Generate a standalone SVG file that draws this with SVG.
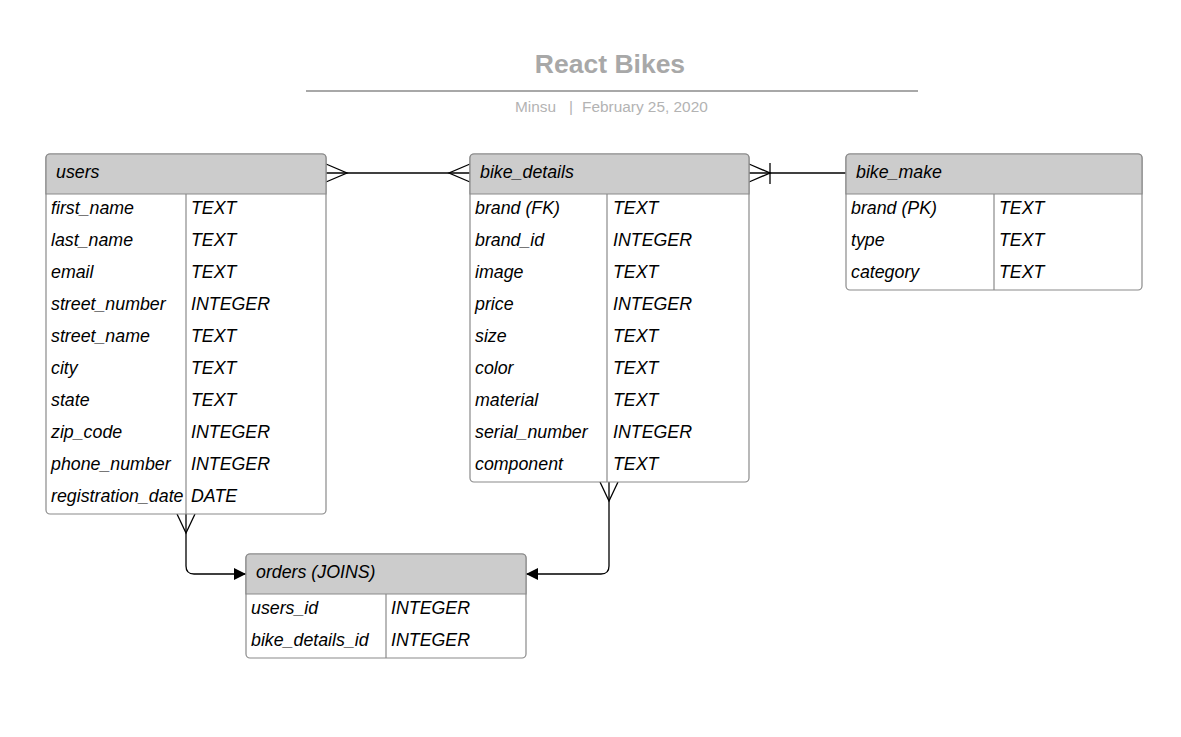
<svg xmlns="http://www.w3.org/2000/svg" width="1181" height="737" viewBox="0 0 1181 737">
<style>
.box{fill:#fff;stroke:#8a8a8a;stroke-width:1.2}
.hdr{fill:#cccccc;stroke:#8a8a8a;stroke-width:1.2}
.div{stroke:#8a8a8a;stroke-width:1.2}
.t{font-family:"Liberation Sans",Arial,sans-serif;font-style:italic;font-size:17.8px;fill:#000}
.c{fill:none;stroke:#000;stroke-width:1.3}
</style>
<defs>
<marker id="arr" viewBox="0 0 10 10" refX="10" refY="5" markerWidth="17" markerHeight="12" markerUnits="userSpaceOnUse" orient="auto">
<path d="M0,0 L10,5 L0,10 z" fill="#000"/>
</marker>
</defs>
<rect width="1181" height="737" fill="#fff"/>
<g id="title">
<text x="610" y="73" text-anchor="middle" font-family="Liberation Sans,Arial,sans-serif" font-weight="bold" font-size="26.5" fill="#a8a8a8">React Bikes</text>
<line x1="306" y1="91" x2="918" y2="91" stroke="#a8a8a8" stroke-width="2"/>
<text x="515" y="112" font-family="Liberation Sans,Arial,sans-serif" font-size="15.4" fill="#b3b3b3">Minsu</text>
<text x="569" y="112" font-family="Liberation Sans,Arial,sans-serif" font-size="15.4" fill="#b3b3b3">|</text>
<text x="582" y="112" font-family="Liberation Sans,Arial,sans-serif" font-size="15.4" fill="#b3b3b3">February 25, 2020</text>
</g>
<g id="connectors">
<line class="c" x1="326" y1="173" x2="470" y2="173"/>
<path class="c" d="M326,164 L347,173 L326,182"/>
<path class="c" d="M470,164 L449,173 L470,182"/>
<line class="c" x1="749" y1="173" x2="846" y2="173"/>
<path class="c" d="M749,164 L770,173 L749,182"/>
<line class="c" x1="770" y1="163" x2="770" y2="184"/>
<path class="c" d="M186,514 L186,566 Q186,574 194,574 L246,574" marker-end="url(#arr)"/>
<path class="c" d="M177,514 L186,533 L195,514"/>
<path class="c" d="M609,482 L609,566 Q609,574 601,574 L526,574" marker-end="url(#arr)"/>
<path class="c" d="M600,482 L609,501 L618,482"/>
</g>
<g id="users">
<rect class="box" x="46" y="154" width="280" height="360" rx="4"/>
<path class="hdr" d="M46,194 L46,158 Q46,154 50,154 L322,154 Q326,154 326,158 L326,194 Z"/>
<line class="div" x1="186" y1="194" x2="186" y2="514"/>
<text class="t" x="56" y="178">users</text>
<text class="t" x="51" y="214">first_name</text><text class="t" x="191" y="214">TEXT</text>
<text class="t" x="51" y="246">last_name</text><text class="t" x="191" y="246">TEXT</text>
<text class="t" x="51" y="278">email</text><text class="t" x="191" y="278">TEXT</text>
<text class="t" x="51" y="310">street_number</text><text class="t" x="191" y="310">INTEGER</text>
<text class="t" x="51" y="342">street_name</text><text class="t" x="191" y="342">TEXT</text>
<text class="t" x="51" y="374">city</text><text class="t" x="191" y="374">TEXT</text>
<text class="t" x="51" y="406">state</text><text class="t" x="191" y="406">TEXT</text>
<text class="t" x="51" y="438">zip_code</text><text class="t" x="191" y="438">INTEGER</text>
<text class="t" x="51" y="470">phone_number</text><text class="t" x="191" y="470">INTEGER</text>
<text class="t" x="51" y="502">registration_date</text><text class="t" x="191" y="502">DATE</text>
</g>
<g id="bike_details">
<rect class="box" x="470" y="154" width="279" height="328" rx="4"/>
<path class="hdr" d="M470,194 L470,158 Q470,154 474,154 L745,154 Q749,154 749,158 L749,194 Z"/>
<line class="div" x1="607" y1="194" x2="607" y2="482"/>
<text class="t" x="480" y="178">bike_details</text>
<text class="t" x="475" y="214">brand (FK)</text><text class="t" x="613" y="214">TEXT</text>
<text class="t" x="475" y="246">brand_id</text><text class="t" x="613" y="246">INTEGER</text>
<text class="t" x="475" y="278">image</text><text class="t" x="613" y="278">TEXT</text>
<text class="t" x="475" y="310">price</text><text class="t" x="613" y="310">INTEGER</text>
<text class="t" x="475" y="342">size</text><text class="t" x="613" y="342">TEXT</text>
<text class="t" x="475" y="374">color</text><text class="t" x="613" y="374">TEXT</text>
<text class="t" x="475" y="406">material</text><text class="t" x="613" y="406">TEXT</text>
<text class="t" x="475" y="438">serial_number</text><text class="t" x="613" y="438">INTEGER</text>
<text class="t" x="475" y="470">component</text><text class="t" x="613" y="470">TEXT</text>
</g>
<g id="bike_make">
<rect class="box" x="846" y="154" width="296" height="136" rx="4"/>
<path class="hdr" d="M846,194 L846,158 Q846,154 850,154 L1138,154 Q1142,154 1142,158 L1142,194 Z"/>
<line class="div" x1="994" y1="194" x2="994" y2="290"/>
<text class="t" x="856" y="178">bike_make</text>
<text class="t" x="851" y="214">brand (PK)</text><text class="t" x="999" y="214">TEXT</text>
<text class="t" x="851" y="246">type</text><text class="t" x="999" y="246">TEXT</text>
<text class="t" x="851" y="278">category</text><text class="t" x="999" y="278">TEXT</text>
</g>
<g id="orders">
<rect class="box" x="246" y="554" width="280" height="104" rx="4"/>
<path class="hdr" d="M246,594 L246,558 Q246,554 250,554 L522,554 Q526,554 526,558 L526,594 Z"/>
<line class="div" x1="386" y1="594" x2="386" y2="658"/>
<text class="t" x="256" y="578">orders (JOINS)</text>
<text class="t" x="251" y="614">users_id</text><text class="t" x="391" y="614">INTEGER</text>
<text class="t" x="251" y="646">bike_details_id</text><text class="t" x="391" y="646">INTEGER</text>
</g>
</svg>
